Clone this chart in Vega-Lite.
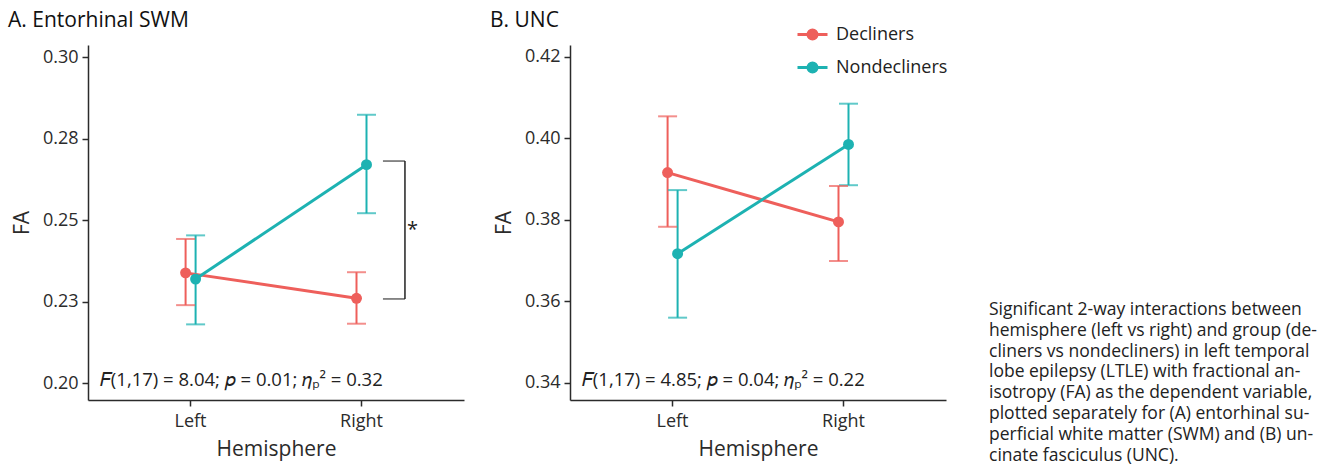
{
  "$schema": "https://vega.github.io/schema/vega-lite/v6.json",
  "background": "white",
  "padding": {"left": 8, "top": 10, "right": 0, "bottom": 0},
  "spacing": 43,
  "config": {
    "font": "Open Sans",
    "view": {"stroke": null},
    "axis": {"domainColor": "#2b2b2b", "domainWidth": 1.5, "tickColor": "#2b2b2b", "tickWidth": 1.5, "tickSize": 6, "labelFont": "Open Sans", "labelFontSize": 18, "labelColor": "#2b2b2b", "titleFont": "Open Sans", "titleFontSize": 21, "titleFontWeight": "normal", "titleColor": "#2b2b2b", "grid": false},
    "legend": {"orient": "none", "legendX": 708, "legendY": -27, "title": null, "symbolType": "M-1,0H1M-0.3,0A0.3,0.3 0 1,0 0.3,0A0.3,0.3 0 1,0 -0.3,0", "symbolSize": 900, "symbolStrokeWidth": 3, "symbolOpacity": 1, "labelFontSize": 18, "labelColor": "#222", "labelFont": "Open Sans", "labelOffset": 7, "rowPadding": 6, "padding": 0}
  },
  "resolve": {"scale": {"x": "independent", "y": "independent"}},
  "hconcat": [
    {
      "spacing": 26,
      "resolve": {"scale": {"x": "independent", "y": "independent"}},
      "hconcat": [
        {
          "width": 376, "height": 355,
          "title": {"text": "A. Entorhinal SWM", "anchor": "start", "frame": "group", "dx": -80, "fontSize": 21, "fontWeight": "normal", "color": "#111", "offset": 14, "font": "Open Sans"},
          "layer": [
            {
              "data": {"values": [
                {"hemisphere": "Left", "group": "Decliners", "fa": 0.2338, "lo": 0.2239, "hi": 0.2442},
                {"hemisphere": "Left", "group": "Nondecliners", "fa": 0.2319, "lo": 0.2180, "hi": 0.2453},
                {"hemisphere": "Right", "group": "Decliners", "fa": 0.2260, "lo": 0.2182, "hi": 0.2340},
                {"hemisphere": "Right", "group": "Nondecliners", "fa": 0.2670, "lo": 0.2521, "hi": 0.2823}
              ]},
              "encoding": {
                "x": {"field": "hemisphere", "type": "nominal", "scale": {"domain": ["Left", "Right"], "paddingInner": 0, "paddingOuter": 0.1}, "axis": {"title": "Hemisphere", "labelAngle": 0, "labelPadding": 6, "titlePadding": 8}},
                "xOffset": {"field": "group", "type": "nominal", "scale": {"domain": ["Decliners", "Nondecliners"], "paddingInner": 0, "paddingOuter": 0, "range": [75.5, 95.5]}},
                "color": {"field": "group", "type": "nominal", "scale": {"domain": ["Decliners", "Nondecliners"], "range": ["#EE5F5B", "#1DB2B2"]}}
              },
              "layer": [
                {"mark": {"type": "rule", "strokeWidth": 2}, "encoding": {"y": {"field": "lo", "type": "quantitative", "title": "FA", "scale": {"domain": [0.1948, 0.3037], "nice": false, "zero": false}, "axis": {"values": [0.2, 0.225, 0.25, 0.275, 0.3], "format": ".2f", "labelPadding": 4, "titlePadding": 10}}, "y2": {"field": "hi"}}},
                {"mark": {"type": "tick", "thickness": 2, "size": 19}, "encoding": {"y": {"field": "lo", "type": "quantitative", "title": "FA"}}},
                {"mark": {"type": "tick", "thickness": 2, "size": 19}, "encoding": {"y": {"field": "hi", "type": "quantitative", "title": "FA"}}},
                {"mark": {"type": "line", "strokeWidth": 3}, "encoding": {"y": {"field": "fa", "type": "quantitative", "title": "FA"}}},
                {"mark": {"type": "point", "filled": true, "size": 120, "opacity": 1}, "encoding": {"y": {"field": "fa", "type": "quantitative", "title": "FA"}}}
              ]
            },
            {
              "data": {"values": [{"top": 0.2681, "bottom": 0.2258, "mid": 0.2482}]},
              "layer": [
                {"mark": {"type": "rule", "color": "#222", "strokeWidth": 1.5, "xOffset": 43.5}, "encoding": {"x": {"datum": "Right", "type": "nominal"}, "y": {"field": "top", "type": "quantitative", "title": "FA"}, "y2": {"field": "bottom"}}},
                {"mark": {"type": "tick", "color": "#222", "thickness": 1.5, "size": 22, "xOffset": 32.5}, "encoding": {"x": {"datum": "Right", "type": "nominal"}, "y": {"field": "top", "type": "quantitative", "title": "FA"}}},
                {"mark": {"type": "tick", "color": "#222", "thickness": 1.5, "size": 22, "xOffset": 32.5}, "encoding": {"x": {"datum": "Right", "type": "nominal"}, "y": {"field": "bottom", "type": "quantitative", "title": "FA"}}},
                {"mark": {"type": "text", "text": "*", "fontSize": 20, "color": "#222", "xOffset": 51, "dy": 4}, "encoding": {"x": {"datum": "Right", "type": "nominal"}, "y": {"field": "mid", "type": "quantitative", "title": "FA"}}}
              ]
            },
            {
              "data": {"values": [{"stat": "𝐹(1,17) = 8.04; 𝑝 = 0.01; 𝜂ₚ² = 0.32"}]},
              "mark": {"type": "text", "align": "left", "baseline": "alphabetic", "fontSize": 18.5, "color": "#222", "dx": -90.7, "dy": 3},
              "encoding": {"x": {"datum": "Left", "type": "nominal"}, "y": {"datum": 0.2, "type": "quantitative", "title": "FA"}, "text": {"field": "stat"}}
            }
          ]
        },
        {
          "width": 376, "height": 355,
          "title": {"text": "B. UNC", "anchor": "start", "frame": "group", "dx": -80, "fontSize": 21, "fontWeight": "normal", "color": "#111", "offset": 14, "font": "Open Sans"},
          "layer": [
            {
              "data": {"values": [
                {"hemisphere": "Left", "group": "Decliners", "fa": 0.3916, "lo": 0.3783, "hi": 0.4054},
                {"hemisphere": "Left", "group": "Nondecliners", "fa": 0.3717, "lo": 0.3560, "hi": 0.3873},
                {"hemisphere": "Right", "group": "Decliners", "fa": 0.3795, "lo": 0.3699, "hi": 0.3883},
                {"hemisphere": "Right", "group": "Nondecliners", "fa": 0.3985, "lo": 0.3885, "hi": 0.4085}
              ]},
              "encoding": {
                "x": {"field": "hemisphere", "type": "nominal", "scale": {"domain": ["Left", "Right"], "paddingInner": 0, "paddingOuter": 0.1}, "axis": {"title": "Hemisphere", "labelAngle": 0, "labelPadding": 6, "titlePadding": 8}},
                "xOffset": {"field": "group", "type": "nominal", "scale": {"domain": ["Decliners", "Nondecliners"], "paddingInner": 0, "paddingOuter": 0, "range": [75.5, 95.5]}},
                "color": {"field": "group", "type": "nominal", "scale": {"domain": ["Decliners", "Nondecliners"], "range": ["#EE5F5B", "#1DB2B2"]}}
              },
              "layer": [
                {"mark": {"type": "rule", "strokeWidth": 2}, "encoding": {"y": {"field": "lo", "type": "quantitative", "title": "FA", "scale": {"domain": [0.3358, 0.4229], "nice": false, "zero": false}, "axis": {"values": [0.34, 0.36, 0.38, 0.40, 0.42], "format": ".2f", "labelPadding": 4, "titlePadding": 10}}, "y2": {"field": "hi"}}},
                {"mark": {"type": "tick", "thickness": 2, "size": 19}, "encoding": {"y": {"field": "lo", "type": "quantitative", "title": "FA"}}},
                {"mark": {"type": "tick", "thickness": 2, "size": 19}, "encoding": {"y": {"field": "hi", "type": "quantitative", "title": "FA"}}},
                {"mark": {"type": "line", "strokeWidth": 3}, "encoding": {"y": {"field": "fa", "type": "quantitative", "title": "FA"}}},
                {"mark": {"type": "point", "filled": true, "size": 120, "opacity": 1}, "encoding": {"y": {"field": "fa", "type": "quantitative", "title": "FA"}}}
              ]
            },
            {
              "data": {"values": [{"stat": "𝐹(1,17) = 4.85; 𝑝 = 0.04; 𝜂ₚ² = 0.22"}]},
              "mark": {"type": "text", "align": "left", "baseline": "alphabetic", "fontSize": 18.5, "color": "#222", "dx": -90.7, "dy": 3},
              "encoding": {"x": {"datum": "Left", "type": "nominal"}, "y": {"datum": 0.34, "type": "quantitative", "title": "FA"}, "text": {"field": "stat"}}
            }
          ]
        }
      ]
    },
    {
      "width": 340, "height": 355,
      "data": {"values": [{}]},
      "mark": {"type": "text", "align": "left", "baseline": "alphabetic", "fontSize": 17.5, "lineHeight": 20.8, "color": "#222", "font": "Open Sans",
        "text": ["Significant 2-way interactions between", "hemisphere (left vs right) and group (de-", "cliners vs nondecliners) in left temporal", "lobe epilepsy (LTLE) with fractional an-", "isotropy (FA) as the dependent variable,", "plotted separately for (A) entorhinal su-", "perficial white matter (SWM) and (B) un-", "cinate fasciculus (UNC)."]},
      "encoding": {"x": {"value": 0}, "y": {"value": 270}}
    }
  ]
}
